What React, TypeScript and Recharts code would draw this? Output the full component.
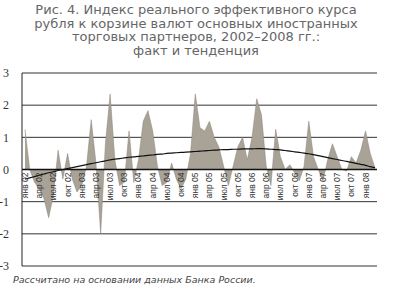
import {
  Area,
  CartesianGrid,
  ComposedChart,
  Line,
  ReferenceLine,
  XAxis,
  YAxis,
} from "recharts";

const MONTHS = ["янв", "фев", "мар", "апр", "май", "июн", "июл", "авг", "сен", "окт", "ноя", "дек"];
const YEARS = ["02", "03", "04", "05", "06", "07", "08"];
// Jan 2002 .. Mar 2008, monthly
const CATEGORIES = YEARS.flatMap((y) => MONTHS.map((m) => `${m} ${y}`)).slice(0, 75);

const FACT = [
  1.25, 0.0, -0.4, -0.6, -0.9, -1.5, -0.8, 0.6, -0.3, 0.5, -0.3, -0.7,
  -0.5, 0.1, 1.55, 0.2, -2.0, 0.8, 2.35, 0.3, -0.5, -0.4, 1.2, -0.4,
  0.3, 1.5, 1.83, 1.2, 0.1, -0.5, -0.4, 0.2, -0.3, -0.6, -0.3, 0.5,
  2.35, 1.3, 1.2, 1.5, 1.0, 0.7, 0.1, -0.5, 0.1, 0.7, 1.0, 0.3,
  1.0, 2.2, 1.7, 0.1, -0.5, 1.25, 0.4, 0.0, 0.15, -0.1, -0.35, 0.1,
  1.5, 0.4, 0.0, -0.35, 0.3, 0.8, 0.4, 0.0, -0.05, 0.4, 0.2, 0.6,
  1.2, 0.5, 0.05,
];

const TREND = [
  -0.3, -0.26, -0.22, -0.18, -0.14, -0.1, -0.07, -0.03, 0.0, 0.03, 0.06, 0.09,
  0.12, 0.15, 0.18, 0.21, 0.24, 0.27, 0.3, 0.32, 0.34, 0.36, 0.38, 0.39,
  0.41, 0.42, 0.44, 0.45, 0.47, 0.48, 0.5, 0.51, 0.52, 0.53, 0.54, 0.55,
  0.56, 0.57, 0.58, 0.59, 0.6, 0.61, 0.62, 0.62, 0.63, 0.63, 0.64, 0.64,
  0.64, 0.65, 0.65, 0.64, 0.63, 0.62, 0.61, 0.59, 0.57, 0.55, 0.53, 0.51,
  0.49, 0.46, 0.43, 0.4, 0.37, 0.34, 0.31, 0.28, 0.25, 0.22, 0.19, 0.16,
  0.13, 0.09, 0.06,
];

const Y_TICKS = [-3, -2, -1, 0, 1, 2, 3];

const TITLE = [
  "Рис. 4. Индекс реального эффективного курса",
  "рубля к корзине валют основных иностранных",
  "торговых партнеров, 2002–2008 гг.:",
  "факт и тенденция",
];
const SOURCE = "Рассчитано на основании данных Банка России.";

const TOP = 73;
const PLOT_H = 193;
const ZERO_Y = TOP + PLOT_H / 2;

const data = CATEGORIES.map((month, i) => ({ month, fact: FACT[i], trend: TREND[i] }));

// quarterly month labels sit on the zero line, drawn over the area
function renderMonthLabel({ x, index }: any) {
  if (index % 3 !== 0) return null;
  return (
    <text
      key={index}
      transform={`translate(${x},${ZERO_Y + 3}) rotate(-90)`}
      textAnchor="end"
      dy="0.35em"
      fontSize={8.5}
      fontFamily="Liberation Sans"
      fill="#333"
    >
      {CATEGORIES[index]}
    </text>
  );
}

export default function App() {
  return (
    <div
      style={{
        position: "absolute",
        left: 0,
        top: 0,
        width: 399,
        height: 290,
        background: "#fff",
        overflow: "hidden",
      }}
    >
      <div
        style={{
          position: "absolute",
          top: 3,
          left: 0,
          width: 392,
          textAlign: "center",
          fontFamily: "DejaVu Sans",
          fontSize: 13,
          lineHeight: "13.5px",
          color: "#666",
        }}
      >
        {TITLE.map((line) => (
          <div key={line}>{line}</div>
        ))}
      </div>
      <ComposedChart
        width={399}
        height={290}
        data={data}
        margin={{ top: TOP, right: 22, bottom: 290 - TOP - PLOT_H - 2, left: 0 }}
      >
        <CartesianGrid vertical={false} stroke="#333" />
        <XAxis
          dataKey="month"
          scale="point"
          height={2}
          axisLine={false}
          tickLine={false}
          tick={false}
          padding={{ left: 3, right: 2 }}
        />
        <YAxis
          width={22}
          domain={[-3, 3]}
          ticks={Y_TICKS}
          tickLine={false}
          tickMargin={7}
          axisLine={{ stroke: "#222" }}
          tick={{ fontSize: 12, fontFamily: "Liberation Serif", fill: "#333" }}
        />
        <Area
          type="linear"
          dataKey="fact"
          fill="#a9a296"
          fillOpacity={1}
          stroke="#8a8378"
          strokeWidth={0.5}
          isAnimationActive={false}
        />
        <ReferenceLine y={0} stroke="#111" strokeWidth={1.5} />
        <Line
          dataKey="trend"
          stroke="none"
          dot={false}
          legendType="none"
          label={renderMonthLabel}
          isAnimationActive={false}
        />
        <Line
          type="monotone"
          dataKey="trend"
          stroke="#111"
          strokeWidth={1.2}
          dot={false}
          isAnimationActive={false}
        />
      </ComposedChart>
      <div
        style={{
          position: "absolute",
          left: 13,
          top: 274,
          fontFamily: "DejaVu Sans",
          fontStyle: "italic",
          fontSize: 9.5,
          color: "#444",
          whiteSpace: "nowrap",
        }}
      >
        {SOURCE}
      </div>
    </div>
  );
}
